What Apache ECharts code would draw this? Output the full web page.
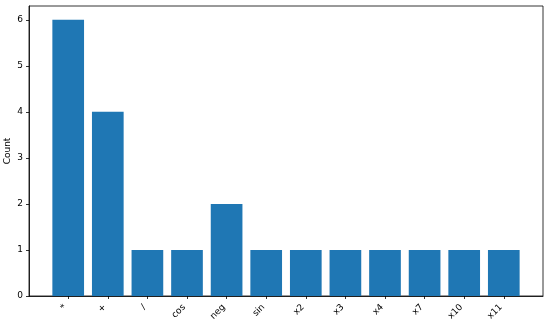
<!DOCTYPE html>
<html><head><meta charset="utf-8">
<script src="https://cdn.jsdelivr.net/npm/echarts@6/dist/echarts.min.js"></script>
<style>html,body{margin:0;padding:0;background:#fff}#c{width:550px;height:324px}</style>
</head><body><div id="c"></div>
<script>
var categories = ['*', '+', '/', 'cos', 'neg', 'sin', 'x2', 'x3', 'x4', 'x7', 'x10', 'x11'];
var counts = [6, 4, 1, 1, 2, 1, 1, 1, 1, 1, 1, 1];
var yTicks = [0, 1, 2, 3, 4, 5, 6];
var yTitle = 'Count';

var gridLeft = 29, gridRight = 7, gridTop = 6, gridBottom = 28;
var W = 550, H = 324;
var xMin = -0.99, xMax = categories.length - 1 + 0.99;
var pxPerUnit = (W - gridLeft - gridRight) / (xMax - xMin);
var font = 'DejaVu Sans';
var xTickVals = categories.map(function(c, i){ return i; });

var chart = echarts.init(document.getElementById('c'), null, {renderer: 'canvas'});
chart.setOption({
  animation: false,
  grid: {left: gridLeft, right: gridRight, top: gridTop, bottom: gridBottom, show: true, borderColor: '#000', borderWidth: 0.8, containLabel: false, outerBoundsMode: 'none'},
  graphic: [{
    type: 'text', x: 7.5, y: gridTop + (H - gridTop - gridBottom) / 2, rotation: Math.PI / 2,
    style: {text: yTitle, fontFamily: font, fontSize: 9, fill: '#000', align: 'center', verticalAlign: 'middle'}
  }],
  xAxis: {
    type: 'value', min: xMin, max: xMax,
    axisLine: {show: true, onZero: false, lineStyle: {color: '#000', width: 0.8}},
    splitLine: {show: false},
    axisTick: {show: true, inside: false, customValues: xTickVals, length: 3, lineStyle: {color: '#000', width: 0.8}},
    axisLabel: {customValues: xTickVals, rotate: 45, margin: 7, padding: [0, 4, 0, 0], fontFamily: font, fontSize: 9, color: '#000',
      formatter: function(v){ return categories[Math.round(v)] || ''; }}
  },
  yAxis: {
    type: 'value', min: 0, max: 6.3,
    axisLine: {show: true, onZero: false, lineStyle: {color: '#000', width: 0.8}},
    splitLine: {show: false},
    axisTick: {show: true, inside: false, customValues: yTicks, length: 3, lineStyle: {color: '#000', width: 0.8}},
    axisLabel: {customValues: yTicks, margin: 6, fontFamily: font, fontSize: 9, color: '#000'}
  },
  series: [{
    type: 'bar',
    data: counts.map(function(v, i){ return [i, v]; }),
    barWidth: pxPerUnit * 0.8,
    itemStyle: {color: '#1f77b4'}
  }]
});
</script></body></html>
